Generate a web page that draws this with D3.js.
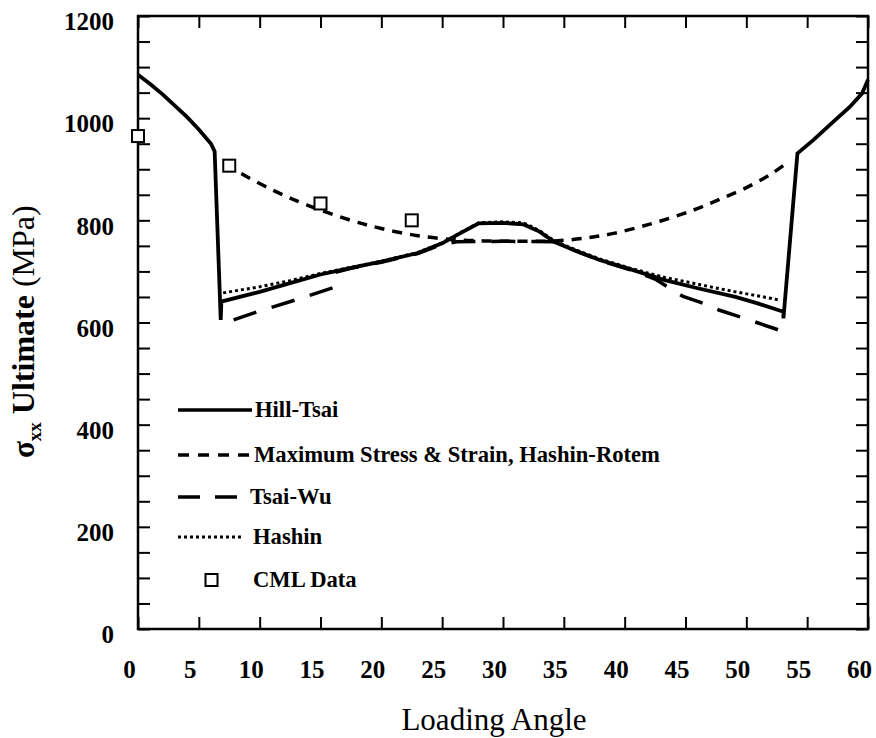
<!DOCTYPE html>
<html><head><meta charset="utf-8">
<script src="https://cdn.jsdelivr.net/npm/d3@7"></script>
<style>
body{margin:0;background:#fff;}
text{font-family:"Liberation Serif","Times New Roman",serif;fill:#000;}
</style></head>
<body><svg id="c" width="876" height="738"></svg>
<script>
// ---- data ----
const xTickValues = [0,5,10,15,20,25,30,35,40,45,50,55,60];
const yTickValues = [0,200,400,600,800,1000,1200];
const yMinorTicks = d3.range(0,1201,50);

const hillTsaiAngle = [0,1,2,3,4,5,6,6.3,6.8,6.85,10,12.5,15,17.5,20,23,25,26.5,28,30,31.7,33,34.2,36,38,40.5,43.3,46,49.1,51,53.05,53.05,54.2,55.5,57,58.5,59.5,60];
const hillTsai      = [1085,1067,1047,1025,1003,978,950,935,605,641,660,677,694,707,719,736,755,775,794,795,792,778,758,740,722,704,683,667,650,637,621,608,931,957,990,1022,1048,1075];

const maxStressAngle = [7.3,8.4,11.1,13.9,17.5,20,23,26,28,30,32,34.5,37,39.2,42,44.7,46.3,48,50,52,53.2];
const maxStress      = [912,893,859,830,800,784,770,762,760,759,759,760,766,775,792,812,826,843,864,890,910];

const tsaiWuAngle = [7.86,9.8,12.8,16,16.2,17.5,20,23,25,26.2,30,34.2,36,38,40.5,42.5,44.8,46.3,47.8,49.6,51.1,52.7];
const tsaiWu      = [605,621,643,668,698,706,718,735,753,758,759,758,740,721,703,685,651,639,624,610,598,585];

const hashinAngle = [7.0,10,12.5,15,17.5,20,23,25,26.5,28,30,31.7,33,34.2,36,38,40.5,43.3,45,47,49.1,51,52.7];
const hashin      = [658,670,682,696,708,720,737,756,776,795,797,795,780,760,742,724,706,688,680,670,660,652,644];

const cmlAngle = [0,7.5,15,22.5];
const cmlValue = [965,907,833,800];

const legendLabels = ["Hill-Tsai","Maximum Stress & Strain, Hashin-Rotem","Tsai-Wu","Hashin","CML Data"];

// ---- chart ----
const svg = d3.select("#c");
const x = d3.scaleLinear().domain([0,60]).range([138,868]);
const y = d3.scaleLinear().domain([0,1200]).range([629,16]);

svg.append("rect").attr("x",x(0)).attr("y",y(1200)).attr("width",x(60)-x(0)).attr("height",y(0)-y(1200))
  .attr("fill","none").attr("stroke","#000").attr("stroke-width",2.5);

const tl = 12;
const gB = svg.append("g").attr("transform",`translate(0,${y(0)})`)
  .call(d3.axisBottom(x).tickValues(xTickValues).tickSizeInner(-tl).tickSizeOuter(0).tickFormat(d3.format("d")));
gB.select(".domain").remove();
gB.selectAll("line").attr("stroke","#000").attr("stroke-width",2);
gB.selectAll("text").attr("y",49).attr("dy",0).attr("dx",-9).style("font-size","25px").style("font-weight","bold")
  .style("font-family","'Liberation Serif',serif");

const gT = svg.append("g").attr("transform",`translate(0,${y(1200)})`)
  .call(d3.axisTop(x).tickValues(xTickValues).tickSizeInner(-tl).tickSizeOuter(0).tickFormat(""));
gT.select(".domain").remove();
gT.selectAll("line").attr("stroke","#000").attr("stroke-width",2);

const gL = svg.append("g").attr("transform",`translate(${x(0)},0)`)
  .call(d3.axisLeft(y).tickValues(yMinorTicks).tickSizeInner(-tl).tickSizeOuter(0).tickFormat(""));
gL.select(".domain").remove();
gL.selectAll("line").attr("stroke","#000").attr("stroke-width",2);

const gLab = svg.append("g").attr("transform",`translate(${x(0)},0)`)
  .call(d3.axisLeft(y).tickValues(yTickValues).tickSize(0).tickPadding(24).tickFormat(d3.format("d")));
gLab.select(".domain").remove();
gLab.selectAll("text").attr("dy","0.55em").attr("dx",0).style("font-size","25px").style("font-weight","bold")
  .style("font-family","'Liberation Serif',serif");

const gR = svg.append("g").attr("transform",`translate(${x(60)},0)`)
  .call(d3.axisRight(y).tickValues(yMinorTicks).tickSizeInner(-tl).tickSizeOuter(0).tickFormat(""));
gR.select(".domain").remove();
gR.selectAll("line").attr("stroke","#000").attr("stroke-width",2);

function mk(ax, ay, curve){
  return d3.line().x((d,i)=>x(ax[i])).y((d,i)=>y(ay[i])).curve(curve||d3.curveLinear)(ay);
}
svg.append("path").attr("d",mk(hashinAngle,hashin)).attr("fill","none").attr("stroke","#000")
  .attr("stroke-width",3).attr("stroke-dasharray","3,3");
svg.append("path").attr("d",mk(tsaiWuAngle,tsaiWu)).attr("fill","none").attr("stroke","#000")
  .attr("stroke-width",3.5).attr("stroke-dasharray","24,16");
svg.append("path").attr("d",mk(maxStressAngle,maxStress,d3.curveCatmullRom)).attr("fill","none").attr("stroke","#000")
  .attr("stroke-width",3.5).attr("stroke-dasharray","10,8");
svg.append("path").attr("d",mk(hillTsaiAngle,hillTsai)).attr("fill","none").attr("stroke","#000")
  .attr("stroke-width",3.8).attr("stroke-linejoin","miter");

const sq = 12;
svg.append("g").selectAll("rect").data(cmlValue).join("rect")
  .attr("x",(d,i)=>x(cmlAngle[i])-sq/2).attr("y",d=>y(d)-sq/2).attr("width",sq).attr("height",sq)
  .attr("fill","#fff").attr("stroke","#000").attr("stroke-width",2);

// legend
const legY = [410,455,497,537,580];
const legStyles = [
  {dash:null,w:3.5,x2:252},
  {dash:"11,9",w:3.5,x2:250},
  {dash:"22,15",w:3.5,x2:242},
  {dash:"3,3",w:3,x2:243},
];
const lg = svg.append("g");
legStyles.forEach((s,i)=>{
  lg.append("line").attr("x1",178).attr("x2",s.x2).attr("y1",legY[i]).attr("y2",legY[i])
    .attr("stroke","#000").attr("stroke-width",s.w).attr("stroke-dasharray",s.dash);
});
lg.append("rect").attr("x",211.5-sq/2).attr("y",legY[4]-sq/2).attr("width",sq).attr("height",sq)
  .attr("fill","#fff").attr("stroke","#000").attr("stroke-width",2);
const legTX = [255,254,250,253,253];
const legTexts = legendLabels.map((t,i)=>
  lg.append("text").attr("x",legTX[i]).attr("y",legY[i]+7).text(t)
    .style("font-family","'Liberation Serif',serif").style("font-size","20px").style("font-weight","bold"));
const w = legTexts[1].node().getComputedTextLength();
const fs = 20*406/w;
legTexts.forEach(t=>t.style("font-size",fs+"px"));

svg.append("text").attr("x",494).attr("y",730).attr("text-anchor","middle")
  .style("font-size","31px").text("Loading Angle");

const yt = svg.append("text").attr("transform","translate(34,458) rotate(-90)");
yt.append("tspan").style("font-size","31px").style("font-weight","bold").text("σ");
yt.append("tspan").style("font-size","19px").style("font-weight","bold").attr("dy",7).text("xx");
yt.append("tspan").style("font-size","32px").style("font-weight","bold").attr("dy",-7).attr("dx",8).text("Ultimate");
yt.append("tspan").style("font-size","32px").attr("dx",8).text("(MPa)");
</script></body></html>
